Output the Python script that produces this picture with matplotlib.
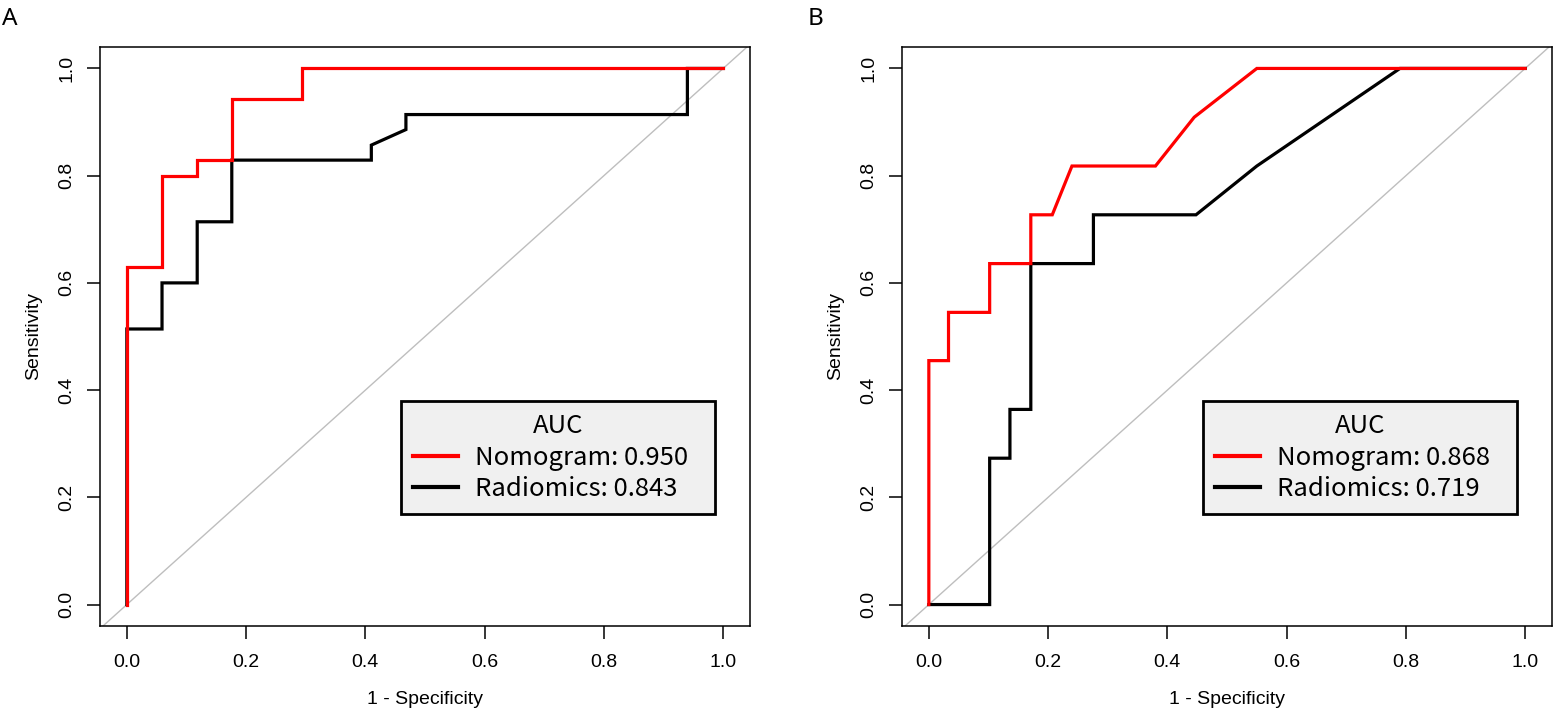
import numpy as np
import matplotlib
matplotlib.use('Agg')
from matplotlib import pyplot as plt

# ROC curve vertices (1 - specificity, sensitivity)
a_nomo_fpr = [0, 0, 0.059, 0.059, 0.118, 0.118, 0.176, 0.176, 0.294, 0.294, 1.0]
a_nomo_tpr = [0, 0.629, 0.629, 0.800, 0.800, 0.829, 0.829, 0.943, 0.943, 1.0, 1.0]
a_radio_fpr = [0, 0, 0.059, 0.059, 0.118, 0.118, 0.176, 0.176, 0.410, 0.410,
               0.468, 0.468, 0.940, 0.940, 1.0]
a_radio_tpr = [0, 0.514, 0.514, 0.600, 0.600, 0.714, 0.714, 0.829, 0.829, 0.857,
               0.886, 0.914, 0.914, 1.0, 1.0]

b_nomo_fpr = [0, 0, 0.033, 0.033, 0.102, 0.102, 0.171, 0.171, 0.207, 0.240,
              0.380, 0.445, 0.550, 1.0]
b_nomo_tpr = [0, 0.455, 0.455, 0.545, 0.545, 0.636, 0.636, 0.727, 0.727, 0.818,
              0.818, 0.909, 1.0, 1.0]
b_radio_fpr = [0, 0.102, 0.102, 0.136, 0.136, 0.171, 0.171, 0.276, 0.276, 0.448,
               0.550, 0.790, 1.0]
b_radio_tpr = [0, 0, 0.273, 0.273, 0.364, 0.364, 0.636, 0.636, 0.727, 0.727,
               0.818, 1.0, 1.0]

auc_a = [0.950, 0.843]
auc_b = [0.868, 0.719]
model_names = ['Nomogram', 'Radiomics']
panel_labels = ['A', 'B']
ticks = [0.0, 0.2, 0.4, 0.6, 0.8, 1.0]

plt.rcParams['font.family'] = ['Liberation Sans', 'DejaVu Sans']
leg_font = {'family': ['Noto Sans CJK SC', 'DejaVu Sans'], 'size': 18.5,
            'weight': 'medium'}

fig = plt.figure(figsize=(15.54, 7.14), dpi=100)
ax_a = fig.add_axes([100 / 1554, 88 / 714, 650 / 1554, 579 / 714])
ax_b = fig.add_axes([902 / 1554, 88 / 714, 650 / 1554, 579 / 714])

panels = [
    (ax_a, a_nomo_fpr, a_nomo_tpr, a_radio_fpr, a_radio_tpr, auc_a),
    (ax_b, b_nomo_fpr, b_nomo_tpr, b_radio_fpr, b_radio_tpr, auc_b),
]

for i, (ax, nf, nt, rf, rt, auc) in enumerate(panels):
    ax.axline((0, 0), (1, 1), color='#bebebe', lw=1.0, zorder=1)
    l_rad, = ax.plot(rf, rt, color='black', lw=2.3, zorder=2,
                     solid_joinstyle='miter')
    l_nom, = ax.plot(nf, nt, color='red', lw=2.3, zorder=3,
                     solid_joinstyle='miter')
    ax.set_xlim(-0.045, 1.045)
    ax.set_ylim(-0.04, 1.04)
    ax.set_xticks(ticks)
    ax.set_yticks(ticks)
    ax.set_xticklabels([f'{t:.1f}' for t in ticks])
    ax.set_yticklabels([f'{t:.1f}' for t in ticks], rotation=90, va='center')
    ax.tick_params(axis='both', length=9.5, width=1.1, labelsize=14,
                   direction='out')
    ax.tick_params(axis='x', pad=11)
    ax.tick_params(axis='y', pad=8)
    for s in ax.spines.values():
        s.set_linewidth(1.1)
    ax.set_xlabel('1 - Specificity', fontsize=14, labelpad=14)
    ax.set_ylabel('Sensitivity', fontsize=14, labelpad=12)

    labels = [f'{model_names[0]}: {auc[0]:.3f}', f'{model_names[1]}: {auc[1]:.3f}']
    leg = ax.legend([l_nom, l_rad], labels, title='AUC', loc='lower left',
                    bbox_to_anchor=(0.463, 0.193, 0.483, 0.199), mode='expand',
                    borderaxespad=0, fancybox=False, edgecolor='black',
                    facecolor='#f0f0f0', framealpha=1, handlelength=1.75,
                    handletextpad=0.65, labelspacing=0.21, borderpad=0.48,
                    prop=leg_font, title_fontproperties=leg_font)
    leg.get_frame().set_linewidth(2.0)
    for h in leg.get_lines():
        h.set_linewidth(3)

    fig.text((2 + i * 806) / 1554, 1 - 7 / 714, panel_labels[i], fontsize=17.5,
             family=['Noto Sans', 'DejaVu Sans'], va='top', ha='left')

fig.savefig('out.png', dpi=100)
